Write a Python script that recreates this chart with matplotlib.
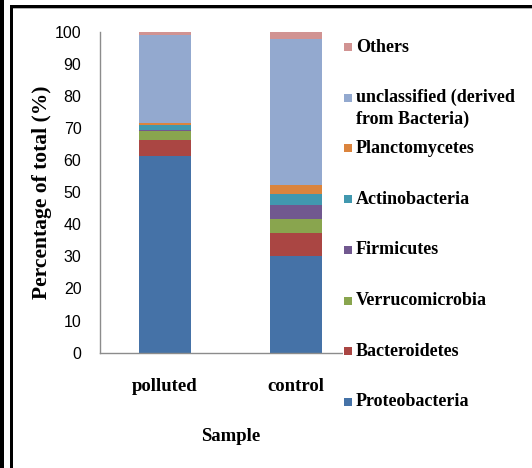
import numpy as np
import matplotlib
matplotlib.use("Agg")
import matplotlib.pyplot as plt
from matplotlib.patches import Rectangle

# Relative abundance (%) of bacterial phyla per sample
samples = ["polluted", "control"]
phyla = ["Proteobacteria", "Bacteroidetes", "Verrucomicrobia", "Firmicutes",
         "Actinobacteria", "Planctomycetes", "unclassified (derived\nfrom Bacteria)",
         "Others"]
proteobacteria = [61.4, 30.2]
bacteroidetes = [5.0, 7.2]
verrucomicrobia = [2.6, 4.2]
firmicutes = [0.5, 4.4]
actinobacteria = [1.3, 3.4]
planctomycetes = [0.8, 2.9]
unclassified = [27.4, 45.4]
others = [1.0, 2.3]

colors = ["#4572A7", "#AA4643", "#89A54E", "#71588F",
          "#4198AF", "#DB843D", "#93A9CF", "#D19392"]

series = [proteobacteria, bacteroidetes, verrucomicrobia, firmicutes,
          actinobacteria, planctomycetes, unclassified, others]

W, H = 532, 468
fig = plt.figure(figsize=(W / 100, H / 100), dpi=100)
ax = fig.add_axes([99.5 / W, (H - 352.7) / H, 262 / W, 321 / H])

serif = ["Liberation Serif", "DejaVu Serif"]
narrow = ["Liberation Sans Narrow", "Liberation Sans", "DejaVu Sans"]

x = np.arange(len(samples))
bottom = np.zeros(len(samples))
for vals, col in zip(series, colors):
    ax.bar(x, vals, width=0.395, bottom=bottom, color=col, edgecolor="none")
    bottom += np.array(vals)

ax.set_xlim(-0.5, 1.5)
ax.set_ylim(0, 100)
ax.set_yticks(np.arange(0, 101, 10))
ax.set_yticklabels([str(v) for v in range(0, 101, 10)], family=narrow, fontsize=11.5)
ax.set_xticks(x)
ax.set_xticklabels(samples, family=serif, fontweight="bold", fontsize=13.5)
ax.tick_params(axis="y", length=0, pad=13)
ax.tick_params(axis="x", length=0, pad=18)

for side in ["top", "right"]:
    ax.spines[side].set_visible(False)
for side in ["left", "bottom"]:
    ax.spines[side].set_color("#8c8c8c")
    ax.spines[side].set_linewidth(1.0)

ax.set_ylabel("Percentage of total (%)", family=serif, fontweight="bold",
              fontsize=15.5, labelpad=2)
ax.set_xlabel("Sample", family=serif, fontweight="bold", fontsize=13.5, labelpad=24)

# legend drawn by hand, top entry first, over a white panel
fig.patches.append(Rectangle((343 / W, 0.08), 185 / W, 0.86,
                             transform=fig.transFigure, facecolor="white",
                             edgecolor="none", zorder=5))
y0, step = 47, 50.7
for i, (name, col) in enumerate(zip(phyla[::-1], colors[::-1])):
    yc = y0 + i * step
    fig.patches.append(Rectangle((344 / W, 1 - (yc + 4) / H), 8 / W, 8 / H,
                                 transform=fig.transFigure, facecolor=col,
                                 edgecolor="none", zorder=6))
    for k, line in enumerate(name.split("\n")):
        fig.text(356 / W, 1 - (yc + k * 22) / H, line, family=serif,
                 fontweight="bold", fontsize=13, va="center", ha="left",
                 zorder=7)

# outer frame
fig.patches.append(Rectangle((0, 0), 3.5 / W, 1, transform=fig.transFigure,
                             facecolor="black", edgecolor="none", zorder=8))
fig.patches.append(Rectangle((10 / W, 0), 2.5 / W, 1 - 5 / H,
                             transform=fig.transFigure, facecolor="black",
                             edgecolor="none", zorder=8))
fig.patches.append(Rectangle((10 / W, 1 - 7.5 / H), 1 - 10 / W, 2.5 / H,
                             transform=fig.transFigure, facecolor="black",
                             edgecolor="none", zorder=8))
fig.patches.append(Rectangle((12.5 / W, 1 - 9 / H), 1 - 12.5 / W, 1.5 / H,
                             transform=fig.transFigure, facecolor="#b0b0b0",
                             edgecolor="none", zorder=8))

fig.savefig("out.png", dpi=100)
